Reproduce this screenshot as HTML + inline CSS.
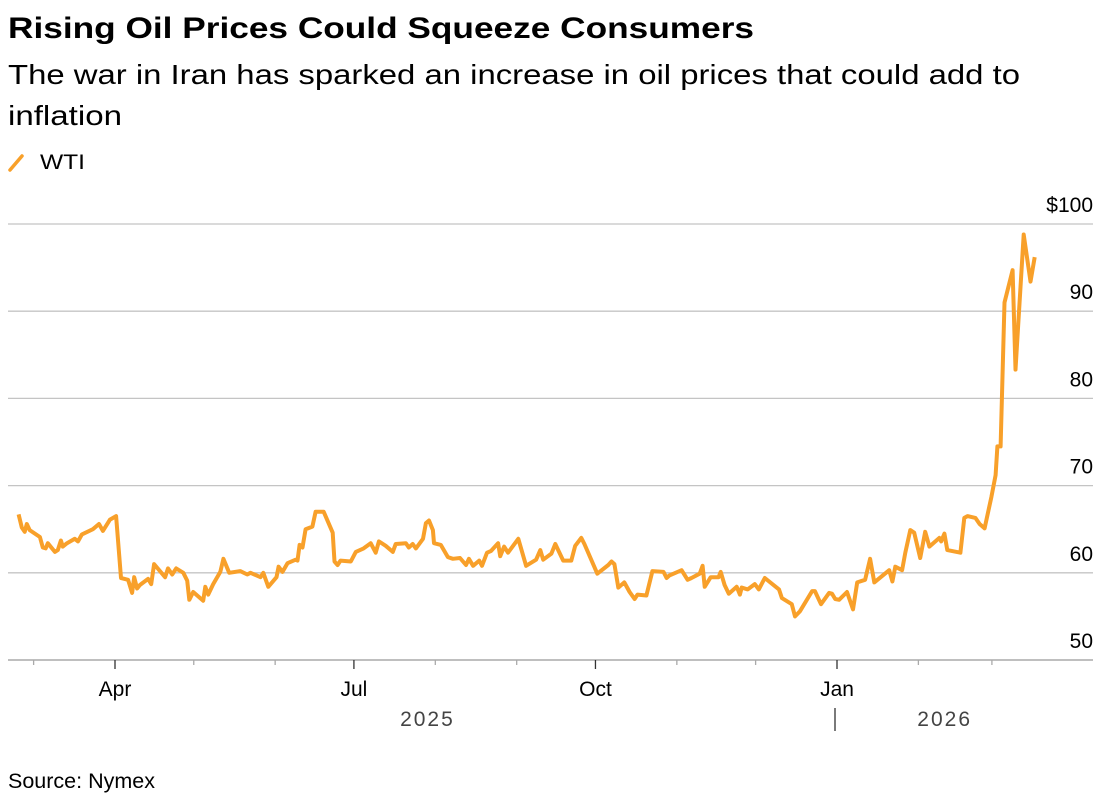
<!DOCTYPE html>
<html><head><meta charset="utf-8">
<style>
body{margin:0;background:#fff;width:1100px;height:799px;overflow:hidden;font-family:"Liberation Sans",sans-serif;color:#000}
svg text{font-family:"Liberation Sans",sans-serif}
</style></head>
<body>
<svg width="1100" height="799" xmlns="http://www.w3.org/2000/svg">
<text x="8" y="38" font-size="30" font-weight="bold" textLength="746" lengthAdjust="spacingAndGlyphs">Rising Oil Prices Could Squeeze Consumers</text>
<text x="8" y="84" font-size="28" textLength="1012" lengthAdjust="spacingAndGlyphs">The war in Iran has sparked an increase in oil prices that could add to</text>
<text x="8" y="125" font-size="28" textLength="114" lengthAdjust="spacingAndGlyphs">inflation</text>
<g>
<line x1="10" y1="170" x2="22" y2="156" stroke="#f8a02a" stroke-width="3.5" stroke-linecap="round"/>
<text x="40" y="169" font-size="21" textLength="45" lengthAdjust="spacingAndGlyphs">WTI</text>
</g>
<g id="grid"></g>
<g id="xaxis"></g>
<path id="line" fill="none" stroke="#f8a02a" stroke-width="4" stroke-linejoin="round"/>
<text x="8" y="788" font-size="21" textLength="147" lengthAdjust="spacingAndGlyphs">Source: Nymex</text>
</svg>
<script>
// days offset from 2025-04-01
const days=[-36.7,-35.5,-34.4,-33.6,-32.5,-28.6,-27.5,-26.4,-25.6,-22.9,-21.8,-20.6,-19.9,-18.3,-15.3,-14.1,-12.6,-8.4,-6.1,-4.6,-1.9,0.4,2.3,5.0,6.5,7.3,8.4,9.5,12.6,13.8,14.9,19.1,20.2,21.8,23.3,26.0,27.5,28.3,29.8,33.6,34.4,35.5,37.4,40.1,41.3,43.5,47.7,50.4,51.6,55.4,56.5,58.4,61.5,62.3,63.8,65.7,68.8,69.5,70.3,71.4,72.6,75.2,76.4,79.5,82.9,83.6,84.8,85.9,89.8,91.7,94.7,97.4,99.3,100.5,103.1,105.8,106.9,110.8,111.9,113.4,114.6,117.3,118.4,119.6,121.1,121.5,124.1,126.8,128.7,131.4,133.7,134.8,136.4,138.7,139.8,141.7,143.2,145.9,146.7,148.2,149.7,153.6,156.6,160.4,162.0,163.1,166.2,167.7,170.7,173.8,175.3,177.6,178.8,183.7,187.9,189.1,190.2,191.7,194.0,196.0,197.9,199.0,202.4,204.7,208.9,210.1,211.2,215.8,218.1,219.6,222.7,223.8,224.6,226.9,229.9,230.7,232.2,233.8,236.8,238.0,238.7,241.0,243.7,245.2,247.5,252.9,254.0,257.8,259.0,260.9,265.5,266.6,268.9,272.0,273.1,274.3,275.8,278.8,281.1,282.7,285.7,287.6,289.2,294.9,296.1,297.2,299.8,301.0,302.9,304.4,306.7,308.6,310.2,314.0,314.7,315.9,317.0,322.0,323.5,324.7,327.7,329.3,331.2,333.8,335.4,336.1,337.3,338.8,341.9,343.0,343.8,346.1,348.7,350.3];
const prices=[66.7,65.2,64.7,65.6,64.9,64.1,62.9,62.8,63.4,62.4,62.6,63.7,63.0,63.4,63.9,63.6,64.4,65.0,65.6,64.8,66.1,66.5,59.4,59.2,57.7,59.5,58.2,58.6,59.3,58.7,61.0,59.5,60.5,59.8,60.5,60.0,59.1,56.9,57.8,56.8,58.4,57.5,58.7,60.1,61.6,60.0,60.2,59.8,60.0,59.5,60.0,58.4,59.5,60.7,60.1,61.1,61.5,61.4,63.2,62.9,65.0,65.3,67.0,67.0,64.6,61.3,60.9,61.4,61.3,62.4,62.8,63.4,62.3,63.6,63.1,62.4,63.3,63.4,62.9,63.3,62.8,63.9,65.7,66.0,64.9,63.4,63.2,61.8,61.6,61.7,60.9,61.6,60.8,61.4,60.8,62.3,62.5,63.4,61.9,63.0,62.3,63.9,60.8,61.5,62.6,61.5,62.2,63.3,61.4,61.4,63.1,64.0,63.3,59.9,60.9,61.3,61.0,58.3,58.9,57.8,57.0,57.5,57.4,60.2,60.1,59.4,59.7,60.3,59.2,59.4,59.9,60.8,58.4,59.5,59.5,60.1,58.6,57.6,58.4,57.5,58.3,58.1,58.7,58.1,59.4,58.1,57.1,56.4,55.0,55.6,57.9,57.9,56.4,57.7,57.6,57.0,56.9,57.8,55.8,58.9,59.2,61.6,58.9,60.3,59.0,60.7,60.3,62.3,64.9,64.6,61.7,64.7,63.0,64.0,63.6,64.5,62.6,62.3,66.3,66.5,66.3,65.6,65.1,68.7,71.2,74.5,74.5,91.0,94.7,83.3,87.3,98.8,93.4,96.2];
const yTicks=[50,60,70,80,90,100];
const yTickLabels=["50","60","70","80","90","$100"];
const monthTicks=[-31,0,30,61,91,122,153,183,214,244,275,306,334];
const majorLabels=["Apr","Jul","Oct","Jan"];
const majorDays=[0,91,183,275];
const years=["2025","2026"];
const yearDays=[119,316];
const NS="http://www.w3.org/2000/svg";
const X=d=>115+d*(837-115)/275;
const Y=v=>660-(v-50)*8.72;
function mk(tag,attrs,parent,txt){const e=document.createElementNS(NS,tag);for(const k in attrs)e.setAttribute(k,attrs[k]);if(txt!==undefined)e.textContent=txt;parent.appendChild(e);return e;}
const grid=document.getElementById('grid');
yTicks.forEach((v,i)=>{
  if(i>0){const l=mk('line',{x1:8,x2:1093,y1:Y(v),y2:Y(v),stroke:'#c4c4c4','stroke-width':1.3},grid);
  
  }
  const t=mk('text',{x:1093,y:Y(v)-12,'text-anchor':'end','font-size':21},grid,yTickLabels[i]);
  
  
});
const xa=document.getElementById('xaxis');
const ax=mk('line',{x1:8,x2:1093,y1:660,y2:660,stroke:'#999','stroke-width':1.3},xa);


monthTicks.forEach(d=>{
  const major=majorDays.includes(d);
  const t=mk('line',{x1:X(d),x2:X(d),y1:660,y2:major?669:665,stroke:major?'#333':'#aaa','stroke-width':1.3},xa);
  
  
});
majorDays.forEach((d,i)=>{
  const t=mk('text',{x:X(d),y:696,'text-anchor':'middle','font-size':21},xa,majorLabels[i]);
  
  
});
years.forEach((y,i)=>{
  const t=mk('text',{x:X(yearDays[i]),y:726,'text-anchor':'middle','font-size':21,fill:'#444','letter-spacing':'2'},xa,y);
  
  
});
const sep=mk('line',{x1:X(275)-2,x2:X(275)-2,y1:708,y2:731,stroke:'#333','stroke-width':1.3},xa);


document.getElementById('line').setAttribute('d',days.map((d,i)=>(i?'L':'M')+X(d).toFixed(1)+' '+Y(prices[i]).toFixed(1)).join(' '));
</script>
</body></html>
